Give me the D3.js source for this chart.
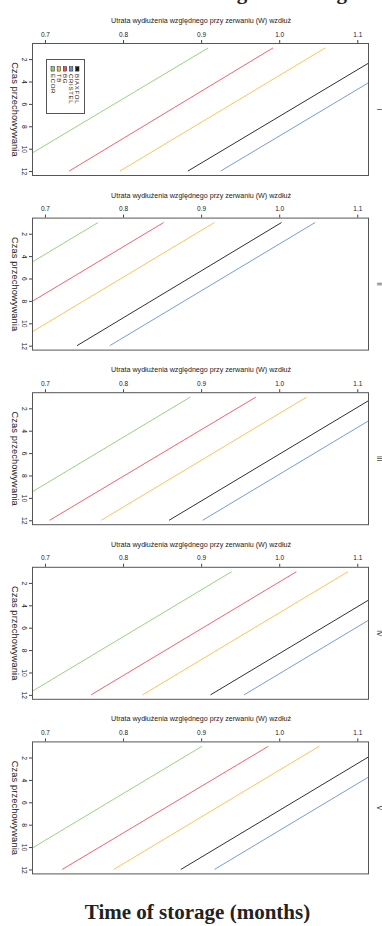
<!DOCTYPE html>
<html>
<head>
<meta charset="utf-8">
<script src="https://cdn.jsdelivr.net/npm/d3@7"></script>
<style>
  body { margin: 0; background: #fff; }
  svg { display: block; }
  text { font-family: "Liberation Sans", Arial, sans-serif; fill: #222; }
</style>
</head>
<body>
<div id="chart"></div>
<script>
// panels and series
const panels = ["I", "II", "III", "IV", "V"];
const materials = ["BIAXFOL", "CRISTEL", "BG", "TB", "ECOR"];
const legendOrder = ["ECOR", "TB", "BG", "CRISTEL", "BIAXFOL"];
const months = [1, 12];
const xTicks = [0.7, 0.8, 0.9, 1.0, 1.1];
const yTicks = [2, 4, 6, 8, 10, 12];

// value at month 1 and month 12, one entry per panel (I..V)
const biaxfol1 = [1.147, 1.003, 1.122, 1.175, 1.137];
const biaxfol12 = [0.883, 0.741, 0.859, 0.912, 0.874];
const cristel1 = [1.189, 1.046, 1.165, 1.218, 1.180];
const cristel12 = [0.925, 0.783, 0.902, 0.955, 0.917];
const bg1 = [0.992, 0.852, 0.970, 1.022, 0.986];
const bg12 = [0.731, 0.589, 0.706, 0.759, 0.722];
const tb1 = [1.059, 0.917, 1.035, 1.088, 1.051];
const tb12 = [0.796, 0.654, 0.772, 0.825, 0.788];
const ecor1 = [0.909, 0.768, 0.886, 0.939, 0.901];
const ecor12 = [0.645, 0.505, 0.623, 0.676, 0.638];

const series = {
  BIAXFOL: [biaxfol1, biaxfol12],
  CRISTEL: [cristel1, cristel12],
  BG: [bg1, bg12],
  TB: [tb1, tb12],
  ECOR: [ecor1, ecor12]
};

const colors = {
  BIAXFOL: "#1a1a1a",
  CRISTEL: "#6a8fd8",
  BG: "#f2505a",
  TB: "#ffbb44",
  ECOR: "#8ccf6c"
};

const width = 382, height = 926;
const left = 32, right = 369, boxH = 133;

const svg = d3.select("#chart").append("svg")
  .attr("width", width)
  .attr("height", height);

const x = d3.scaleLinear().domain([0.6834, 1.115]).range([left, right]);
const panelTop = d3.scaleLinear().domain([0, 4]).range([43, 741.4]);

// partially visible title cut off at the top
svg.append("text")
  .attr("x", 347)
  .attr("y", -1.5)
  .attr("text-anchor", "end")
  .style("font-family", "'Liberation Serif', 'Times New Roman', serif")
  .style("font-weight", "bold")
  .style("font-size", "21px")
  .text("Loss of elongation along");

panels.forEach((p, i) => {
  const top = panelTop(i);
  const y = d3.scaleLinear().domain([0.56, 12.44]).range([top, top + boxH]);
  const g = svg.append("g");

  g.append("clipPath").attr("id", "clip" + i)
    .append("rect")
    .attr("x", left).attr("y", top)
    .attr("width", right - left).attr("height", boxH);

  // top axis
  const ax = g.append("g")
    .attr("transform", `translate(0,${top})`)
    .call(d3.axisTop(x).tickValues(xTicks).tickSize(3).tickPadding(3.5).tickFormat(d3.format(".1f")));
  ax.select(".domain").remove();
  ax.selectAll("line").attr("stroke", "#444");
  ax.selectAll("text").style("font-size", "6.5px").attr("fill", "#222");

  g.append("text")
    .attr("x", 201)
    .attr("y", top - 20)
    .attr("text-anchor", "middle")
    .attr("textLength", 180)
    .attr("lengthAdjust", "spacingAndGlyphs")
    .style("font-size", "8px")
    .text("Utrata wydłużenia względnego przy zerwaniu (W) wzdłuż");

  // left axis with rotated labels
  const ay = g.append("g")
    .attr("transform", `translate(${left},0)`)
    .call(d3.axisLeft(y).tickValues(yTicks).tickSize(3));
  ay.select(".domain").remove();
  ay.selectAll("line").attr("stroke", "#444");
  ay.selectAll("text")
    .attr("x", null).attr("dy", null)
    .attr("text-anchor", "middle")
    .attr("dominant-baseline", "central")
    .attr("transform", "translate(-7.5,0) rotate(90)")
    .attr("fill", "#222")
    .style("font-size", "6.8px");

  g.append("text")
    .attr("transform", `translate(14.5,${top + boxH / 2}) rotate(90)`)
    .attr("text-anchor", "middle")
    .attr("dominant-baseline", "central")
    .style("font-size", "9.3px")
    .style("letter-spacing", "0.1px")
    .text("Czas przechowywania");

  g.append("text")
    .attr("transform", `translate(379,${top + boxH / 2}) rotate(90)`)
    .attr("text-anchor", "middle")
    .attr("dominant-baseline", "central")
    .style("font-size", "6.5px")
    .text(p);

  // lines
  const line = d3.line().x(d => x(d.v)).y(d => y(d.m));
  g.append("g").attr("clip-path", `url(#clip${i})`)
    .selectAll("path")
    .data(materials)
    .join("path")
    .attr("fill", "none")
    .attr("stroke", m => colors[m])
    .attr("stroke-width", 0.9)
    .attr("d", m => line(months.map((mo, k) => ({ m: mo, v: series[m][k][i] }))));

  // box
  g.append("rect")
    .attr("x", left + 0.5).attr("y", top + 0.5)
    .attr("width", right - left - 1).attr("height", boxH - 1)
    .attr("fill", "none")
    .attr("stroke", "#555")
    .attr("stroke-width", 1);

  // legend only in the first panel
  if (i === 0) {
    const lg = g.append("g");
    lg.append("rect")
      .attr("x", 46.5).attr("y", 59.5)
      .attr("width", 38).attr("height", 54)
      .attr("fill", "#fff")
      .attr("stroke", "#555");
    const lx = d3.scalePoint().domain(legendOrder).range([52.7, 77.3]);
    lg.selectAll(".key")
      .data(legendOrder)
      .join("rect")
      .attr("class", "key")
      .attr("x", m => lx(m) - 1.7)
      .attr("y", 66.7)
      .attr("width", 3.4)
      .attr("height", 4.4)
      .attr("fill", m => colors[m])
      .attr("stroke", "#222")
      .attr("stroke-width", 0.5);
    lg.selectAll(".lab")
      .data(legendOrder)
      .join("text")
      .attr("class", "lab")
      .attr("transform", m => `translate(${lx(m)},74) rotate(90)`)
      .attr("dominant-baseline", "central")
      .style("font-size", "6px")
      .style("letter-spacing", "0.7px")
      .text(m => m);
  }
});

svg.append("text")
  .attr("x", 197.5)
  .attr("y", 919)
  .attr("text-anchor", "middle")
  .style("font-family", "'Liberation Serif', 'Times New Roman', serif")
  .style("font-weight", "bold")
  .style("font-size", "21px")
  .text("Time of storage (months)");
</script>
</body>
</html>
